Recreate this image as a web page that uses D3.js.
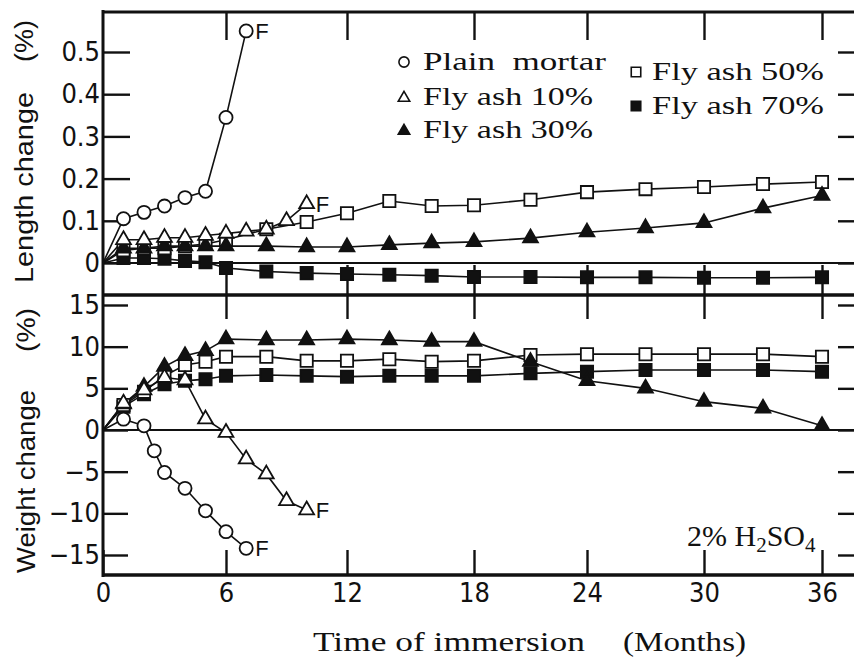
<!DOCTYPE html>
<html>
<head>
<meta charset="utf-8">
<script src="https://cdn.jsdelivr.net/npm/d3@7"></script>
<style>
  html, body { margin: 0; padding: 0; background: #fff; }
  svg { display: block; }
</style>
</head>
<body>
<svg id="chart" width="854" height="661"></svg>
<script>
// ---- Months of immersion at which each mix was measured ----
const monthsPlainLen = [0, 1, 2, 3, 4, 5, 6, 7];
const monthsPlainWt  = [0, 1, 2, 2.5, 3, 4, 5, 6, 7];
const monthsFA10     = [0, 1, 2, 3, 4, 5, 6, 7, 8, 9, 10];
const monthsFA       = [0, 1, 2, 3, 4, 5, 6, 8, 10, 12, 14, 16, 18, 21, 24, 27, 30, 33, 36];

// ---- Length change (%) ----
const lenPlain = [0, 0.105, 0.12, 0.135, 0.155, 0.17, 0.345, 0.55];
const lenFA10  = [0, 0.055, 0.055, 0.06, 0.06, 0.065, 0.07, 0.075, 0.08, 0.10, 0.14];
const lenFA30  = [0, 0.035, 0.035, 0.04, 0.04, 0.04, 0.04, 0.04, 0.038, 0.038, 0.043, 0.047, 0.05, 0.059, 0.073, 0.083, 0.095, 0.13, 0.16];
const lenFA50  = [0, 0.03, 0.035, 0.035, 0.04, 0.045, 0.055, 0.08, 0.097, 0.118, 0.147, 0.135, 0.137, 0.15, 0.168, 0.175, 0.18, 0.187, 0.192];
const lenFA70  = [0, 0.012, 0.012, 0.01, 0.005, 0.002, -0.012, -0.02, -0.024, -0.026, -0.028, -0.03, -0.033, -0.033, -0.034, -0.034, -0.035, -0.035, -0.034];

// ---- Weight change (%) ----
const wtPlain = [0, 1.3, 0.5, -2.5, -5.1, -7.0, -9.7, -12.2, -14.2];
const wtFA10  = [0, 3.2, 4.8, 6.3, 6.0, 1.3, -0.3, -3.5, -5.3, -8.5, -9.6];
const wtFA30  = [0, 3.1, 5.2, 7.6, 8.9, 9.5, 10.9, 10.8, 10.8, 10.9, 10.8, 10.6, 10.6, 8.2, 5.9, 5.0, 3.4, 2.6, 0.5];
const wtFA50  = [0, 3.0, 4.6, 6.5, 7.8, 8.2, 8.8, 8.8, 8.3, 8.3, 8.5, 8.2, 8.3, 9.0, 9.1, 9.1, 9.1, 9.1, 8.8];
const wtFA70  = [0, 2.8, 4.3, 5.5, 5.9, 6.1, 6.5, 6.6, 6.5, 6.4, 6.5, 6.5, 6.5, 6.8, 7.0, 7.2, 7.2, 7.2, 7.0];

// ---- Tick labels and legend text ----
const xTicks   = [0, 6, 12, 18, 24, 30, 36];
const lenTicks = [0, 0.1, 0.2, 0.3, 0.4, 0.5];
const wtTicks  = [-15, -10, -5, 0, 5, 10, 15];
const legendNames = ["Plain  mortar", "Fly ash 10%", "Fly ash 30%", "Fly ash 50%", "Fly ash 70%"];

// ---- Layout ----
const W = 854, H = 661;
const xLeft = 103, xRight = 856;
const topY = 12, midY = 295, botY = 575;

const svg = d3.select("#chart");
svg.append("rect").attr("width", W).attr("height", H).attr("fill", "#fff");

const x  = d3.scaleLinear().domain(xTicks).range([103, 226, 347, 474, 587, 704, 822]);
const yL = d3.scaleLinear().domain([0, 0.5]).range([263, 52]);
const yW = d3.scaleLinear().domain([-15, 15]).range([555, 305]);

const tickFont = '"Liberation Sans Narrow", "DejaVu Sans Condensed", "Arial Narrow", sans-serif';
const serif = '"Liberation Serif", "DejaVu Serif", serif';
const sans = '"Liberation Sans", Arial, sans-serif';

function styleAxis(g, showText) {
  g.select(".domain").remove();
  g.selectAll(".tick line").attr("stroke", "#111").attr("stroke-width", 2.4);
  g.selectAll(".tick text")
    .attr("fill", "#111")
    .style("font-family", tickFont)
    .style("font-size", "27px")
    .style("display", showText ? null : "none");
}

// Left value axes with inward ticks
svg.append("g").attr("transform", `translate(${xLeft},0)`)
  .call(d3.axisLeft(yL).tickValues(lenTicks).tickSize(-27).tickPadding(3)
    .tickFormat(d => d === 0 ? "0" : d3.format(".1f")(d)))
  .call(g => styleAxis(g, true));
svg.append("g").attr("transform", `translate(${xLeft},0)`)
  .call(d3.axisLeft(yW).tickValues(wtTicks).tickSize(-25).tickPadding(3)
    .tickFormat(d => d < 0 ? "\u2212" + Math.abs(d) : String(d)))
  .call(g => styleAxis(g, true));

// Right-side inward ticks
svg.append("g").attr("transform", `translate(${xRight},0)`)
  .call(d3.axisRight(yL).tickValues(lenTicks).tickSize(-18).tickFormat(""))
  .call(g => styleAxis(g, false));
svg.append("g").attr("transform", `translate(${xRight},0)`)
  .call(d3.axisRight(yW).tickValues(wtTicks).tickSize(-18).tickFormat(""))
  .call(g => styleAxis(g, false));

// Time ticks on every horizontal border, pointing into each panel
svg.append("g").attr("transform", `translate(0,${topY})`)
  .call(d3.axisTop(x).tickValues(xTicks.slice(1)).tickSize(-28).tickFormat(""))
  .call(g => styleAxis(g, false));
svg.append("g").attr("transform", `translate(0,${midY})`)
  .call(d3.axisBottom(x).tickValues(xTicks.slice(1)).tickSize(-30).tickFormat(""))
  .call(g => styleAxis(g, false));
svg.append("g").attr("transform", `translate(0,${midY})`)
  .call(d3.axisTop(x).tickValues(xTicks.slice(1)).tickSize(-24).tickFormat(""))
  .call(g => styleAxis(g, false));
svg.append("g").attr("transform", `translate(0,${botY})`)
  .call(d3.axisBottom(x).tickValues(xTicks).tickSize(-25).tickPadding(8))
  .call(g => styleAxis(g, true));

// Frame
const frame = svg.append("g").attr("stroke", "#111").attr("fill", "none");
frame.append("line").attr("x1", xLeft).attr("x2", W).attr("y1", topY).attr("y2", topY).attr("stroke-width", 3);
frame.append("line").attr("x1", xLeft).attr("x2", W).attr("y1", midY).attr("y2", midY).attr("stroke-width", 3.5);
frame.append("line").attr("x1", xLeft).attr("x2", W).attr("y1", botY).attr("y2", botY).attr("stroke-width", 3.5);
frame.append("line").attr("x1", xLeft).attr("x2", xLeft).attr("y1", topY - 2).attr("y2", botY + 2).attr("stroke-width", 3);

// Zero reference lines
frame.append("line").attr("x1", xLeft).attr("x2", W).attr("y1", yL(0)).attr("y2", yL(0)).attr("stroke-width", 2);
frame.append("line").attr("x1", xLeft).attr("x2", W).attr("y1", yW(0)).attr("y2", yW(0)).attr("stroke-width", 2);

// Marker styles
const symbols = {
  circle:   { type: d3.symbolCircle,   size: 135, fill: "#fff" },
  triOpen:  { type: d3.symbolTriangle, size: 95,  fill: "#fff" },
  triFill:  { type: d3.symbolTriangle, size: 95,  fill: "#111" },
  sqOpen:   { type: d3.symbolSquare,   size: 150, fill: "#fff" },
  sqFill:   { type: d3.symbolSquare,   size: 150, fill: "#111" }
};

const series = [
  { y: yL, t: monthsFA,       v: lenFA70,  sym: "sqFill" },
  { y: yL, t: monthsFA,       v: lenFA50,  sym: "sqOpen" },
  { y: yL, t: monthsFA,       v: lenFA30,  sym: "triFill" },
  { y: yL, t: monthsFA10,     v: lenFA10,  sym: "triOpen", fail: true },
  { y: yL, t: monthsPlainLen, v: lenPlain, sym: "circle",  fail: true },
  { y: yW, t: monthsFA,       v: wtFA70,   sym: "sqFill" },
  { y: yW, t: monthsFA,       v: wtFA50,   sym: "sqOpen" },
  { y: yW, t: monthsFA,       v: wtFA30,   sym: "triFill" },
  { y: yW, t: monthsFA10,     v: wtFA10,   sym: "triOpen", fail: true },
  { y: yW, t: monthsPlainWt,  v: wtPlain,  sym: "circle",  fail: true }
];

const lines = svg.append("g").attr("fill", "none").attr("stroke", "#111").attr("stroke-width", 1.6);
series.forEach(s => {
  const pts = s.t.map((m, i) => [m, s.v[i]]);
  lines.append("path")
    .attr("d", d3.line().x(d => x(d[0])).y(d => s.y(d[1]))(pts));
});

const marks = svg.append("g");
series.forEach(s => {
  const sym = symbols[s.sym];
  const pts = s.t.map((m, i) => [m, s.v[i]]).filter(d => d[0] > 0);
  marks.append("g").selectAll("path").data(pts).join("path")
    .attr("transform", d => `translate(${x(d[0])},${s.y(d[1])})`)
    .attr("d", d3.symbol().type(sym.type).size(sym.size))
    .attr("fill", sym.fill)
    .attr("stroke", "#111")
    .attr("stroke-width", 1.8);
  if (s.fail) {
    const last = pts[pts.length - 1];
    marks.append("text")
      .attr("x", x(last[0]) + 9)
      .attr("y", s.y(last[1]) + 8)
      .attr("fill", "#111")
      .style("font-family", sans)
      .style("font-size", "22px")
      .text("F");
  }
});

// Legend
const legend = svg.append("g");
const legendItems = [
  { name: legendNames[0], sym: "circle",  mx: 404, my: 62,  tx: 423, ty: 70,  len: 183 },
  { name: legendNames[1], sym: "triOpen", mx: 404, my: 98,  tx: 423, ty: 105, len: 170 },
  { name: legendNames[2], sym: "triFill", mx: 404, my: 131, tx: 423, ty: 138, len: 170 },
  { name: legendNames[3], sym: "sqOpen",  mx: 636, my: 72,  tx: 652, ty: 80,  len: 172 },
  { name: legendNames[4], sym: "sqFill",  mx: 636, my: 106, tx: 652, ty: 114, len: 172 }
];
legendItems.forEach(it => {
  const sym = symbols[it.sym];
  legend.append("path")
    .attr("transform", `translate(${it.mx},${it.my})`)
    .attr("d", d3.symbol().type(sym.type).size(sym.size * 0.6))
    .attr("fill", sym.fill).attr("stroke", "#111").attr("stroke-width", 1.6);
  legend.append("text")
    .attr("x", it.tx).attr("y", it.ty)
    .attr("textLength", it.len).attr("lengthAdjust", "spacingAndGlyphs")
    .attr("fill", "#111")
    .style("font-family", serif).style("font-size", "25px")
    .style("white-space", "pre")
    .text(it.name);
});

// Test solution label
const acid = svg.append("text")
  .attr("x", 687).attr("y", 546)
  .attr("fill", "#111")
  .style("font-family", serif).style("font-size", "30px");
acid.append("tspan").text("2% H");
acid.append("tspan").attr("dy", 6).style("font-size", "21px").text("2");
acid.append("tspan").attr("dy", -6).text("SO");
acid.append("tspan").attr("dy", 6).style("font-size", "21px").text("4");

// Axis titles
function vTitle(text, cx, yBottom, yTop) {
  svg.append("text")
    .attr("transform", `translate(${cx},${yBottom}) rotate(-90)`)
    .attr("textLength", yBottom - yTop).attr("lengthAdjust", "spacingAndGlyphs")
    .attr("fill", "#111")
    .style("font-family", sans).style("font-size", "26px")
    .text(text);
}
vTitle("Length change", 33, 283, 92);
vTitle("(%)", 33, 62, 20);
vTitle("Weight change", 35, 573, 390);
vTitle("(%)", 35, 352, 308);

function xTitle(text, x0, len) {
  svg.append("text")
    .attr("x", x0).attr("y", 651)
    .attr("textLength", len).attr("lengthAdjust", "spacingAndGlyphs")
    .attr("fill", "#111")
    .style("font-family", serif).style("font-size", "27px")
    .text(text);
}
xTitle("Time of immersion", 313, 272);
xTitle("(Months)", 623, 123);
</script>
</body>
</html>
